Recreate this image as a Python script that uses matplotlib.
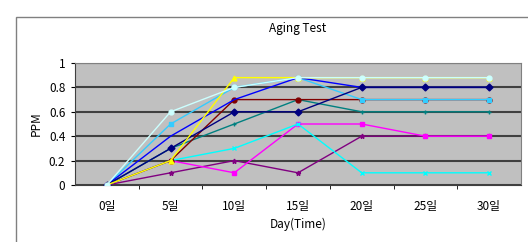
import matplotlib as mpl
mpl.use('Agg')
import matplotlib.pyplot as plt
from matplotlib.patches import Rectangle

plt.rcParams['font.family'] = ['Noto Sans CJK KR', 'DejaVu Sans']

days = ['0일', '5일', '10일', '15일', '20일', '25일', '30일']

yellow = [0, 0.2, 0.88, 0.88, 0.88, 0.88, 0.88]
pale = [0, 0.6, 0.8, 0.88, 0.88, 0.88, 0.88]
blue = [0, 0.4, 0.7, 0.88, 0.8, 0.8, 0.8]
navy = [0, 0.3, 0.6, 0.6, 0.8, 0.8, 0.8]
sky = [0, 0.5, 0.8, 0.88, 0.7, 0.7, 0.7]
darkred = [0, 0.2, 0.7, 0.7, 0.7, 0.7, 0.7]
teal = [0, 0.3, 0.5, 0.7, 0.6, 0.6, 0.6]
cyan = [0, 0.2, 0.3, 0.5, 0.1, 0.1, 0.1]
magenta = [0, 0.2, 0.1, 0.5, 0.5, 0.4, 0.4]
purple = [0, 0.1, 0.2, 0.1, 0.4, 0.4, 0.4]

series = [
    (purple, '#800080', '*'),
    (magenta, '#ff00ff', 's'),
    (cyan, '#00ffff', 'x'),
    (teal, '#008080', '+'),
    (darkred, '#800000', 'o'),
    (sky, '#33ccff', 's'),
    (blue, '#0000ff', None),
    (navy, '#000080', 'D'),
    (yellow, '#ffff00', '^'),
    (pale, '#ccffff', 'o'),
]

fig = plt.figure(figsize=(5.28, 2.42), dpi=100)
# outer chart frame
fig.patches.append(Rectangle((16 / 528, -0.1), 1.1, 1 - 17 / 242 + 0.1,
                             transform=fig.transFigure, fill=False,
                             edgecolor='#808080', linewidth=1))
ax = fig.add_axes([75 / 528, 1 - 185 / 242, 446 / 528, 122 / 242])
ax.set_facecolor('#c0c0c0')

x = list(range(len(days)))
for vals, c, m in series:
    ax.plot(x, vals, color=c, linewidth=1, marker=m, markersize=3.5,
            markeredgewidth=1, zorder=3)

ax.set_xlim(-0.5, len(days) - 0.5)
ax.set_ylim(0, 1)
ax.set_yticks([0, 0.2, 0.4, 0.6, 0.8, 1])
ax.set_yticklabels(['0', '0.2', '0.4', '0.6', '0.8', '1'])
ax.set_xticks(x)
ax.set_xticklabels(days)
ax.set_xticks([i + 0.5 for i in range(len(days) - 1)], minor=True)
ax.tick_params(axis='x', which='major', length=0, labelsize=8.5, pad=11)
ax.tick_params(axis='x', which='minor', length=3, direction='out')
ax.tick_params(axis='y', length=3, labelsize=8.5, pad=4)
ax.yaxis.grid(True, color='#404040', linewidth=1.5)
ax.set_axisbelow(True)
for s in ax.spines.values():
    s.set_color('#808080')
ax.spines['bottom'].set_color('#404040')
ax.spines['left'].set_color('#404040')

ax.set_title('Aging Test', fontsize=8.5, pad=22)
ax.set_xlabel('Day(Time)', fontsize=8.5, labelpad=3)
ax.set_ylabel('PPM', fontsize=8.5, labelpad=4)

fig.savefig('out.png', dpi=100)
